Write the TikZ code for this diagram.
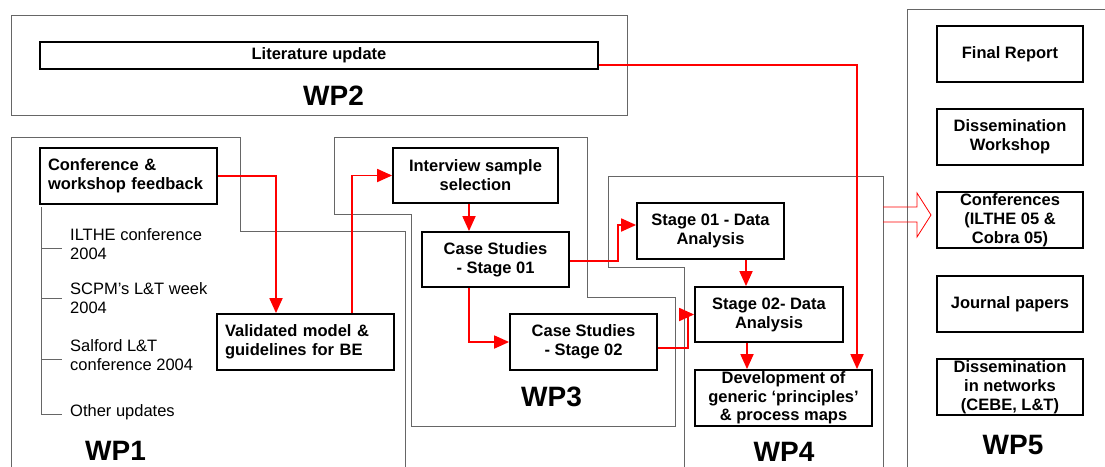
\documentclass[tikz,border=0pt]{standalone}
\usepackage{fontspec}
\setmainfont{Liberation Sans}
\usetikzlibrary{arrows.meta}

\tikzset{
  taskbox/.style={draw, line width=1.8pt, font=\bfseries\fontsize{16.5}{19}\selectfont,
    align=center, inner sep=0pt, minimum height=56pt},
  wpline/.style={draw=black!60, line width=0.9pt},
  redarrow/.style={draw=red, line width=1.8pt, -{Triangle[length=15pt,width=13pt]}},
  wplabel/.style={font=\bfseries\fontsize{28}{30}\selectfont, inner sep=0pt},
  itemtext/.style={font=\fontsize{16.5}{19}\selectfont, align=left, anchor=west, inner sep=0pt}
}

\begin{document}
\begin{tikzpicture}[x=1pt,y=-1pt]
        \useasboundingbox (0,0) rectangle (1105,466);

        % Work package outlines
        \draw[wpline] (11,15) rectangle (627,115);
        \draw[wpline] (11,470) -- (11,137) -- (240,137) -- (240,231) -- (405,231) -- (405,470);
        \draw[wpline] (334,137) -- (587,137) -- (587,297) -- (675,297) -- (675,426)
                      -- (411,426) -- (411,214) -- (334,214) -- cycle;
        \draw[wpline] (684,470) -- (684,267) -- (608,267) -- (608,176) -- (883,176) -- (883,470);
        \draw[wpline] (907,470) -- (907,9) -- (1110,9);

        % WP2
        \node[taskbox, minimum width=558pt, minimum height=27pt] (lit) at (319,55.5) {Literature update};
        \node[wplabel] (wp2) at (333.5,96) {WP2};

        % WP1
        \node[taskbox, text width=161pt, align=left, inner xsep=8pt] (conf) at (128.5,176)
              {Conference \&\\workshop feedback};
        \node[taskbox, text width=161pt, align=left, inner xsep=8pt] (valid) at (305.5,342)
              {Validated model \&\\guidelines for BE};
        \draw[wpline] (41,207) -- (41,414) -- (62,414);
        \foreach \y in {248,298,359}
          \draw[wpline] (41,\y) -- (62,\y);
        \node[itemtext] (ilthe) at (70,244) {ILTHE conference\\2004};
        \node[itemtext] (scpm) at (70,298) {SCPM’s L\&T week\\2004};
        \node[itemtext] (salford) at (70,355) {Salford L\&T\\conference 2004};
        \node[itemtext] (other) at (70,412) {Other updates};
        \node[wplabel] (wp1) at (115.5,451) {WP1};

        % WP3
        \node[taskbox, minimum width=165pt, minimum height=55pt] (interview) at (475.5,175.5)
              {Interview sample\\selection};
        \node[taskbox, minimum width=147pt, minimum height=55pt] (cs1) at (495.5,259.5)
              {Case Studies\\- Stage 01};
        \node[taskbox, minimum width=147pt] (cs2) at (583.5,342) {Case Studies\\- Stage 02};
        \node[wplabel] (wp3) at (551.5,397) {WP3};

        % WP4
        \node[taskbox, minimum width=147pt] (sa1) at (710.5,231) {Stage 01 - Data\\Analysis};
        \node[taskbox, minimum width=148pt, minimum height=55pt] (sa2) at (769,314.5)
              {Stage 02- Data\\Analysis};
        \node[taskbox, minimum width=177pt, font=\bfseries\fontsize{16.5}{18.5}\selectfont] (dev) at (783.5,398)
              {Development of\\generic ‘principles’\\\& process maps};
        \node[wplabel] (wp4) at (784,452) {WP4};

        % WP5
        \node[taskbox, minimum width=146pt] (final) at (1010,54) {Final Report};
        \node[taskbox, minimum width=146pt] (dissw) at (1010,137) {Dissemination\\Workshop};
        \node[taskbox, minimum width=146pt] (confs) at (1010,220) {Conferences\\(ILTHE 05 \&\\Cobra 05)};
        \node[taskbox, minimum width=146pt] (journal) at (1010,304) {Journal papers};
        \node[taskbox, minimum width=146pt] (dissn) at (1010,387) {Dissemination\\in networks\\(CEBE, L\&T)};
        \node[wplabel] (wp5) at (1013,445) {WP5};

        % Hollow arrow into WP5
        \draw[red, line width=0.8pt] (883,207) -- (917,207) -- (917,193) -- (931,215)
              -- (917,237) -- (917,222) -- (883,222);

        % Flow arrows
        \draw[redarrow] (conf.east) -| ([xshift=-29.5pt]valid.north);
        \draw[redarrow] ([xshift=46.5pt]valid.north) |- (interview.west);
        \draw[redarrow] ([xshift=-6.5pt]interview.south) -- ([xshift=-6.5pt]interview.south |- cs1.north);
        \draw[redarrow] ([xshift=-26.5pt]cs1.south) |- (cs2.west);
        \draw[redarrow] ([yshift=-1.5pt]cs1.east) -- ++(48,0) |- ([yshift=6pt]sa1.west);
        \draw[redarrow] ([yshift=-6pt]cs2.east) -- ++(30,0) |- (sa2.west);
        \draw[redarrow] ([xshift=35.5pt]sa1.south) -- ([xshift=35.5pt]sa1.south |- sa2.north);
        \draw[redarrow] ([xshift=-22pt]sa2.south) -- ([xshift=-22pt]sa2.south |- dev.north);
        \draw[redarrow] ([yshift=-9.5pt]lit.east) -| ([xshift=73.5pt]dev.north);
    \end{tikzpicture}
\end{document}
